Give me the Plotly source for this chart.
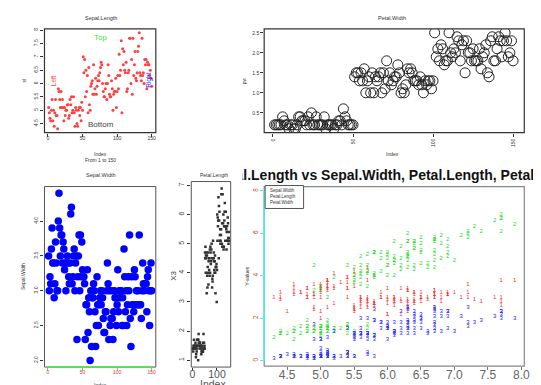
import plotly.graph_objects as go

# iris data, rows 1..150
sepal_length = [5.1, 4.9, 4.7, 4.6, 5.0, 5.4, 4.6, 5.0, 4.4, 4.9, 5.4, 4.8, 4.8, 4.3, 5.8, 5.7, 5.4, 5.1, 5.7, 5.1,
                5.4, 5.1, 4.6, 5.1, 4.8, 5.0, 5.0, 5.2, 5.2, 4.7, 4.8, 5.4, 5.2, 5.5, 4.9, 5.0, 5.5, 4.9, 4.4, 5.1,
                5.0, 4.5, 4.4, 5.0, 5.1, 4.8, 5.1, 4.6, 5.3, 5.0, 7.0, 6.4, 6.9, 5.5, 6.5, 5.7, 6.3, 4.9, 6.6, 5.2,
                5.0, 5.9, 6.0, 6.1, 5.6, 6.7, 5.6, 5.8, 6.2, 5.6, 5.9, 6.1, 6.3, 6.1, 6.4, 6.6, 6.8, 6.7, 6.0, 5.7,
                5.5, 5.5, 5.8, 6.0, 5.4, 6.0, 6.7, 6.3, 5.6, 5.5, 5.5, 6.1, 5.8, 5.0, 5.6, 5.7, 5.7, 6.2, 5.1, 5.7,
                6.3, 5.8, 7.1, 6.3, 6.5, 7.6, 4.9, 7.3, 6.7, 7.2, 6.5, 6.4, 6.8, 5.7, 5.8, 6.4, 6.5, 7.7, 7.7, 6.0,
                6.9, 5.6, 7.7, 6.3, 6.7, 7.2, 6.2, 6.1, 6.4, 7.2, 7.4, 7.9, 6.4, 6.3, 6.1, 7.7, 6.3, 6.4, 6.0, 6.9,
                6.7, 6.9, 5.8, 6.8, 6.7, 6.7, 6.3, 6.5, 6.2, 5.9]
sepal_width = [3.5, 3.0, 3.2, 3.1, 3.6, 3.9, 3.4, 3.4, 2.9, 3.1, 3.7, 3.4, 3.0, 3.0, 4.0, 4.4, 3.9, 3.5, 3.8, 3.8,
               3.4, 3.7, 3.6, 3.3, 3.4, 3.0, 3.4, 3.5, 3.4, 3.2, 3.1, 3.4, 4.1, 4.2, 3.1, 3.2, 3.5, 3.6, 3.0, 3.4,
               3.5, 2.3, 3.2, 3.5, 3.8, 3.0, 3.8, 3.2, 3.7, 3.3, 3.2, 3.2, 3.1, 2.3, 2.8, 2.8, 3.3, 2.4, 2.9, 2.7,
               2.0, 3.0, 2.2, 2.9, 2.9, 3.1, 3.0, 2.7, 2.2, 2.5, 3.2, 2.8, 2.5, 2.8, 2.9, 3.0, 2.8, 3.0, 2.9, 2.6,
               2.4, 2.4, 2.7, 2.7, 3.0, 3.4, 3.1, 2.3, 3.0, 2.5, 2.6, 3.0, 2.6, 2.3, 2.7, 3.0, 2.9, 2.9, 2.5, 2.8,
               3.3, 2.7, 3.0, 2.9, 3.0, 3.0, 2.5, 2.9, 2.5, 3.6, 3.2, 2.7, 3.0, 2.5, 2.8, 3.2, 3.0, 3.8, 2.6, 2.2,
               3.2, 2.8, 2.8, 2.7, 3.3, 3.2, 2.8, 3.0, 2.8, 3.0, 2.8, 3.8, 2.8, 2.8, 2.6, 3.0, 3.4, 3.1, 3.0, 3.1,
               3.1, 3.1, 2.7, 3.2, 3.3, 3.0, 2.5, 3.0, 3.4, 3.0]
petal_length = [1.4, 1.4, 1.3, 1.5, 1.4, 1.7, 1.4, 1.5, 1.4, 1.5, 1.5, 1.6, 1.4, 1.1, 1.2, 1.5, 1.3, 1.4, 1.7, 1.5,
                1.7, 1.5, 1.0, 1.7, 1.9, 1.6, 1.6, 1.5, 1.4, 1.6, 1.6, 1.5, 1.5, 1.4, 1.5, 1.2, 1.3, 1.4, 1.3, 1.5,
                1.3, 1.3, 1.3, 1.6, 1.9, 1.4, 1.6, 1.4, 1.5, 1.4, 4.7, 4.5, 4.9, 4.0, 4.6, 4.5, 4.7, 3.3, 4.6, 3.9,
                3.5, 4.2, 4.0, 4.7, 3.6, 4.4, 4.5, 4.1, 4.5, 3.9, 4.8, 4.0, 4.9, 4.7, 4.3, 4.4, 4.8, 5.0, 4.5, 3.5,
                3.8, 3.7, 3.9, 5.1, 4.5, 4.5, 4.7, 4.4, 4.1, 4.0, 4.4, 4.6, 4.0, 3.3, 4.2, 4.2, 4.2, 4.3, 3.0, 4.1,
                6.0, 5.1, 5.9, 5.6, 5.8, 6.6, 4.5, 6.3, 5.8, 6.1, 5.1, 5.3, 5.5, 5.0, 5.1, 5.3, 5.5, 6.7, 6.9, 5.0,
                5.7, 4.9, 6.7, 4.9, 5.7, 6.0, 4.8, 4.9, 5.6, 5.8, 6.1, 6.4, 5.6, 5.1, 5.6, 6.1, 5.6, 5.5, 4.8, 5.4,
                5.6, 5.1, 5.1, 5.9, 5.7, 5.2, 5.0, 5.2, 5.4, 5.1]
petal_width = [0.2, 0.2, 0.2, 0.2, 0.2, 0.4, 0.3, 0.2, 0.2, 0.1, 0.2, 0.2, 0.1, 0.1, 0.2, 0.4, 0.4, 0.3, 0.3, 0.3,
               0.2, 0.4, 0.2, 0.5, 0.2, 0.2, 0.4, 0.2, 0.2, 0.2, 0.2, 0.4, 0.1, 0.2, 0.2, 0.2, 0.2, 0.1, 0.2, 0.2,
               0.3, 0.3, 0.2, 0.6, 0.4, 0.3, 0.2, 0.2, 0.2, 0.2, 1.4, 1.5, 1.5, 1.3, 1.5, 1.3, 1.6, 1.0, 1.3, 1.4,
               1.0, 1.5, 1.0, 1.4, 1.3, 1.4, 1.5, 1.0, 1.5, 1.1, 1.8, 1.3, 1.5, 1.2, 1.3, 1.4, 1.4, 1.7, 1.5, 1.0,
               1.1, 1.0, 1.2, 1.6, 1.5, 1.6, 1.5, 1.3, 1.3, 1.3, 1.2, 1.4, 1.2, 1.0, 1.3, 1.2, 1.3, 1.3, 1.1, 1.3,
               2.5, 1.9, 2.1, 1.8, 2.2, 2.1, 1.7, 1.8, 1.8, 2.5, 2.0, 1.9, 2.1, 2.0, 2.4, 2.3, 1.8, 2.2, 2.3, 1.5,
               2.3, 2.0, 2.0, 1.8, 2.1, 1.8, 1.8, 1.8, 2.1, 1.6, 1.9, 2.0, 2.2, 1.5, 1.4, 2.3, 2.4, 1.8, 1.8, 2.1,
               2.4, 2.3, 1.9, 2.3, 2.5, 2.3, 1.9, 2.0, 2.3, 1.8]
index = list(range(1, 151))

idx_ticks = [0, 50, 100, 150]
sl_ticks = [4.5, 5.0, 5.5, 6.0, 6.5, 7.0, 7.5, 8.0]
pw_ticks = [0.5, 1.0, 1.5, 2.0, 2.5]
sw_ticks = [2.0, 2.5, 3.0, 3.5, 4.0]
pl_ticks = [1, 2, 3, 4, 5, 6, 7]
yv_ticks = [0, 2, 4, 6, 8]
sl2_ticks = [4.5, 5.0, 5.5, 6.0, 6.5, 7.0, 7.5, 8.0]

W, H = 541, 385
FONT = "Liberation Sans, Arial, sans-serif"


def dx(a, b):
    return [a / W, b / W]


def dy(top, bottom):
    return [1 - bottom / H, 1 - top / H]


def px(x):
    return x / W


def py(y):
    return 1 - y / H


fig = go.Figure()

# top-left: Sepal.Length by index
fig.add_trace(go.Scatter(x=index, y=sepal_length, mode="markers", xaxis="x", yaxis="y",
                         marker=dict(color="#ff4040", size=3, symbol="circle")))
# top-right: Petal.Width by index, open circles
fig.add_trace(go.Scatter(x=index, y=petal_width, mode="markers", xaxis="x2", yaxis="y2",
                         marker=dict(color="#222", size=10, symbol="circle-open",
                                     line=dict(width=1))))
# bottom-left: Sepal.Width by index
fig.add_trace(go.Scatter(x=index, y=sepal_width, mode="markers", xaxis="x3", yaxis="y3",
                         marker=dict(color="#0000ff", size=7.5)))
# bottom-middle: Petal.Length by index
fig.add_trace(go.Scatter(x=index, y=petal_length, mode="markers", xaxis="x4", yaxis="y4",
                         marker=dict(color="#333", size=2.5, symbol="square")))
# bottom-right: matplot of three series against Sepal.Length
for vals, col, ch in [(sepal_width, "#ff3030", "1"), (petal_length, "#20dd20", "2"),
                      (petal_width, "#2020ff", "3")]:
    fig.add_trace(go.Scatter(x=sepal_length, y=vals, mode="text", text=[ch] * len(vals),
                             xaxis="x5", yaxis="y5",
                             textfont=dict(color=col, size=6, family=FONT)))
# big title, clipped to the panel like in R
fig.add_trace(go.Scatter(x=[389], y=[0.5], mode="text", xaxis="x6", yaxis="y6", cliponaxis=True,
                         text=["<b>Sepal.Length vs Sepal.Width, Petal.Length, Petal.Width</b>"],
                         textfont=dict(size=14, color="#111", family=FONT)))

tiny = dict(size=5, color="#333", family=FONT)
base = dict(showgrid=False, zeroline=False, ticks="outside", ticklen=3, tickcolor="#333",
            showline=False, tickfont=tiny)

fig.update_layout(
    width=W, height=H, margin=dict(l=0, r=0, t=0, b=0),
    paper_bgcolor="white", plot_bgcolor="white", showlegend=False,
    font=dict(family=FONT),
    xaxis=dict(base, domain=dx(35, 148), range=[-4.96, 155.96], tickvals=idx_ticks,
               ticklabelstandoff=-3, anchor="y"),
    yaxis=dict(base, domain=dy(20, 124), range=[4.156, 8.044], tickvals=sl_ticks, tickangle=-90,
               anchor="x"),
    xaxis2=dict(base, domain=dx(258, 522), range=[-5.5, 157], tickvals=idx_ticks, tickangle=-90,
                anchor="y2"),
    yaxis2=dict(base, domain=dy(20, 124), range=[0.004, 2.596], tickvals=pw_ticks,
                tickformat=".1f", anchor="x2"),
    xaxis3=dict(base, domain=dx(35, 148), range=[-4.96, 155.96], tickvals=idx_ticks,
                ticklabelstandoff=-3, tickcolor="#44ee44",
                tickfont=dict(size=5, color="#ee3333", family=FONT), anchor="y3"),
    yaxis3=dict(base, domain=dy(178, 359), range=[1.904, 4.496], tickvals=sw_ticks,
                tickformat=".1f", tickangle=-90, anchor="x3"),
    xaxis4=dict(base, domain=dx(184, 224), range=[-5, 156], tickvals=[0, 100], ticklen=2,
                ticklabelstandoff=-5,
                tickfont=dict(size=10.5, color="#555", family=FONT), anchor="y4"),
    yaxis4=dict(base, domain=dy(173, 359), range=[0.764, 7.136], tickvals=pl_ticks, tickangle=-90,
                tickfont=dict(size=7, color="#444", family=FONT), anchor="x4"),
    xaxis5=dict(base, domain=dx(258, 522), range=[4.156, 8.044], tickvals=sl2_ticks,
                tickformat=".1f", tickcolor="#777", ticklabelstandoff=-5,
                tickfont=dict(size=12, color="#666", family=FONT), anchor="y5"),
    yaxis5=dict(base, domain=dy(178, 358), range=[-0.25, 8.2], tickvals=yv_ticks, tickangle=-90,
                tickcolor="#44eeee", tickfont=dict(size=6.5, color="#d04030", family=FONT), anchor="x5"),
    xaxis6=dict(domain=dx(236, 534), range=[236, 534], visible=False, anchor="y6"),
    yaxis6=dict(domain=dy(155, 180), range=[0, 1], visible=False, anchor="x6"),
)

shapes = []
for n, col, w in [("", "#333", 1.2), ("2", "#333", 1.2), ("3", "#555", 1),
                  ("4", "#555", 1), ("5", "#888", 1.2)]:
    shapes.append(dict(type="rect", xref=f"x{n} domain", yref=f"y{n} domain",
                       x0=0, x1=1, y0=0, y1=1, line=dict(color=col, width=w), layer="above"))
# green x-axis line in bottom-left
shapes.append(dict(type="line", xref="x3", yref="y3 domain", x0=0, x1=150, y0=0, y1=0,
                   line=dict(color="#44ee44", width=1.5), layer="above"))
# cyan y-axis line in bottom-right
shapes.append(dict(type="line", xref="x5 domain", yref="y5", x0=0, x1=0, y0=0, y1=8,
                   line=dict(color="#44eeee", width=1.5), layer="above"))
# legend box
shapes.append(dict(type="rect", xref="paper", yref="paper", x0=px(259), x1=px(298),
                   y0=py(200), y1=py(177), line=dict(color="#555", width=1),
                   fillcolor="white", layer="above"))
fig.update_layout(shapes=shapes)


def ann(x, y, text, size=5, color="#333", angle=0, xanchor="center"):
    fig.add_annotation(x=px(x), y=py(y), xref="paper", yref="paper", text=text, showarrow=False,
                       font=dict(size=size, color=color, family=FONT), textangle=angle,
                       xanchor=xanchor, yanchor="middle")


# titles
ann(92, 9, "Sepal.Length", 5.5)
ann(388, 9, "Petal.Width", 5.5)
ann(92, 166, "Sepal.Width", 5.5)
ann(207, 166, "Petal.Length", 5)
# axis labels
ann(92, 145, "Index")
ann(92, 151, "From 1 to 150")
ann(14, 72, "sl", angle=-90)
ann(388, 145, "Index")
ann(237, 72, "pw", angle=-90)
ann(92, 377, "Index")
ann(92, 383, "From 1 to 150")
ann(14, 268, "Sepal.Width", angle=-90)
ann(166, 268, "X3", 8, "#444", angle=-90)
ann(206, 376, "Index", 10.5, "#555")
ann(390, 381.5, "Sepal.Length")
ann(241, 268, "Y-values", angle=-90)
# text inside top-left panel
ann(92, 29, "Top", 8, "#44dd44")
ann(92, 116, "Bottom", 8, "#444")
ann(44, 72, "Left", 6.5, "#ff4040", angle=-90)
ann(141, 71, "Right", 6.5, "#3030ff", angle=-90)
# legend entries
ann(262, 182, "Sepal.Width", 4.5, xanchor="left")
ann(262, 188, "Petal.Length", 4.5, xanchor="left")
ann(262, 194, "Petal.Width", 4.5, xanchor="left")

fig.write_html("out.html")
